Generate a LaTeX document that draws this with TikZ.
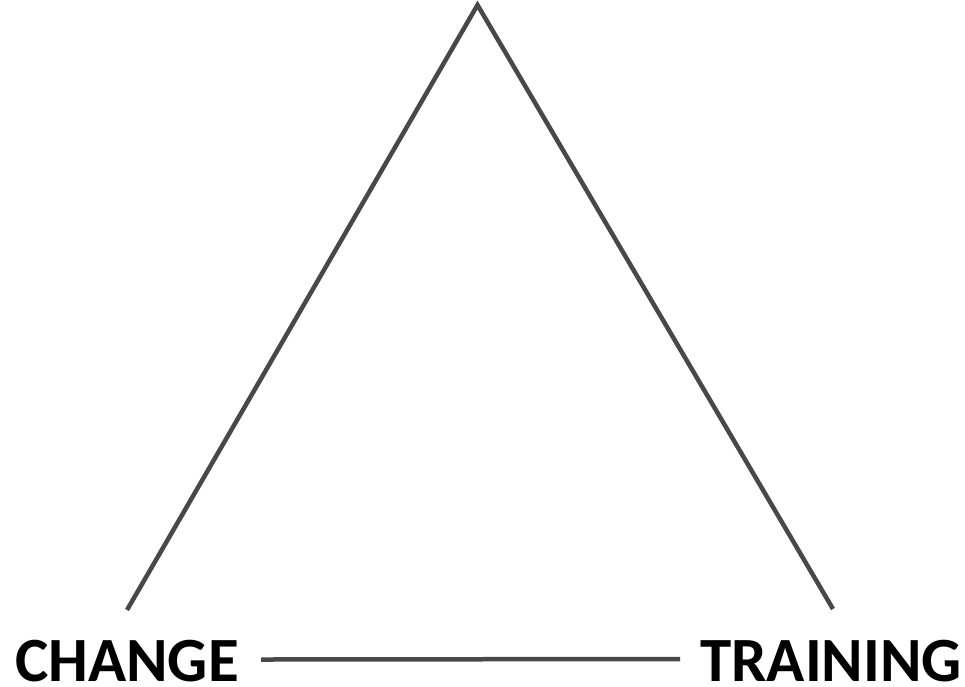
\documentclass[tikz,border=0pt]{standalone}
\usepackage{fontspec}
\setmainfont{Carlito}
\definecolor{linegray}{HTML}{484848}
\begin{document}
\begin{tikzpicture}[x=1pt,y=-1pt,
  edge/.style={draw=linegray,line width=4.5pt},
  label/.style={font=\fontsize{63}{63}\selectfont\bfseries,inner sep=0pt,anchor=base}]
\useasboundingbox (0,0) rectangle (965,686);
\coordinate (apex) at (477.5,5);
\coordinate (lb) at (127,610);
\coordinate (rb) at (833,609);
\coordinate (bl) at (261,659.5);
\coordinate (br) at (680,659);
\draw[edge] (lb) -- (apex) -- (rb);
\draw[edge] (bl) -- (br);
\node[label] (change) at (127,681) {CHANGE};
\node[label] (training) at (831,681) {TRAINING};
\end{tikzpicture}
\end{document}
